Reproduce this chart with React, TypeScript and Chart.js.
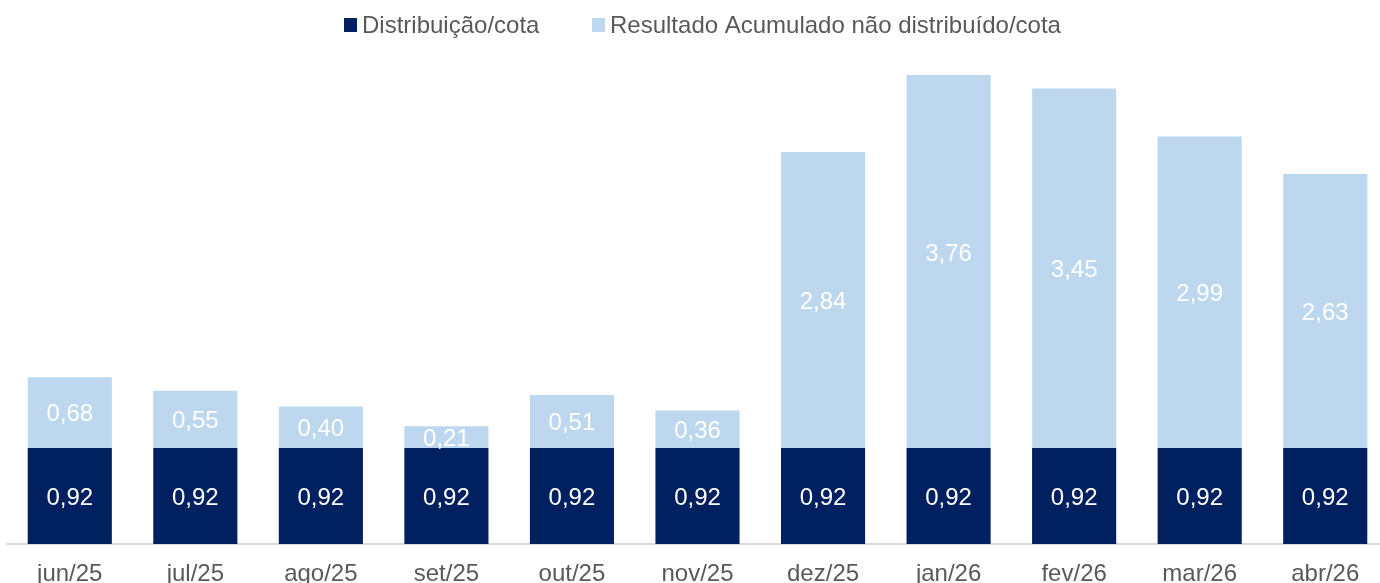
import React, { useEffect, useRef } from "react";
import { Chart, registerables } from "chart.js";

Chart.register(...registerables);

const categories = ["jun/25", "jul/25", "ago/25", "set/25", "out/25", "nov/25", "dez/25", "jan/26", "fev/26", "mar/26", "abr/26"];
const distribuicao = [0.92, 0.92, 0.92, 0.92, 0.92, 0.92, 0.92, 0.92, 0.92, 0.92, 0.92];
const resultadoAcumulado = [0.68, 0.55, 0.40, 0.21, 0.51, 0.36, 2.84, 3.76, 3.45, 2.99, 2.63];
const seriesNames = ["Distribuição/cota", "Resultado Acumulado não distribuído/cota"];
const seriesColors = ["#002060", "#BDD7EE"];
const yMax = 4.5;

const FONT = "'Liberation Sans', Arial, sans-serif";
const fmt = (v: number) => v.toFixed(2).replace(".", ",");

const labelPlugin = {
  id: "segLabels",
  afterDatasetsDraw(chart: any) {
    const ctx = chart.ctx;
    const y = chart.scales.y;
    ctx.save();
    ctx.fillStyle = "#FFFFFF";
    ctx.font = `24px ${FONT}`;
    ctx.textAlign = "center";
    ctx.textBaseline = "middle";
    chart.data.datasets.forEach((ds: any, di: number) => {
      const meta = chart.getDatasetMeta(di);
      meta.data.forEach((bar: any, i: number) => {
        let base = 0;
        for (let k = 0; k < di; k++) base += chart.data.datasets[k].data[i];
        const v = ds.data[i];
        const cy = (y.getPixelForValue(base) + y.getPixelForValue(base + v)) / 2;
        ctx.fillText(fmt(v), bar.x, cy + 2);
      });
    });
    ctx.restore();
  },
};

const legendPlugin = {
  id: "customLegend",
  afterDraw(chart: any) {
    const ctx = chart.ctx;
    ctx.save();
    ctx.font = `24px ${FONT}`;
    ctx.textBaseline = "middle";
    ctx.textAlign = "left";
    const positions = [344, 592];
    seriesNames.forEach((name, i) => {
      const x = positions[i];
      ctx.fillStyle = seriesColors[i];
      ctx.fillRect(x, 18, 13, 14);
      ctx.fillStyle = "#595959";
      ctx.fillText(name, x + 18, 26);
    });
    ctx.restore();
  },
};

export default function App() {
  const ref = useRef<HTMLCanvasElement>(null);
  useEffect(() => {
    if (!ref.current) return;
    const chart = new Chart(ref.current, {
      type: "bar",
      data: {
        labels: categories,
        datasets: [
          { label: seriesNames[0], data: distribuicao, backgroundColor: seriesColors[0], barPercentage: 0.67, categoryPercentage: 1 },
          { label: seriesNames[1], data: resultadoAcumulado, backgroundColor: seriesColors[1], barPercentage: 0.67, categoryPercentage: 1 },
        ],
      },
      options: {
        animation: false,
        responsive: true,
        maintainAspectRatio: false,
        layout: { padding: { top: 75, left: 7, right: 8, bottom: 0 } },
        plugins: { legend: { display: false }, tooltip: { enabled: false } },
        scales: {
          x: {
            stacked: true,
            grid: { display: false, drawTicks: false },
            border: { display: true, color: "#D9D9D9", width: 2 },
            ticks: { color: "#595959", font: { family: FONT, size: 24 }, padding: 16, autoSkip: false, maxRotation: 0 },
            afterFit: (s: any) => { s.height = 56; },
          },
          y: { stacked: true, display: false, min: 0, max: yMax },
        },
      },
      plugins: [labelPlugin, legendPlugin],
    });
    return () => chart.destroy();
  }, []);
  return (
    <div style={{ position: "fixed", left: 0, top: 0, width: 1380, height: 583, overflow: "hidden", background: "#fff" }}>
      <div style={{ position: "absolute", left: 0, top: 0, width: 1396, height: 600 }}>
        <canvas ref={ref} />
      </div>
    </div>
  );
}
